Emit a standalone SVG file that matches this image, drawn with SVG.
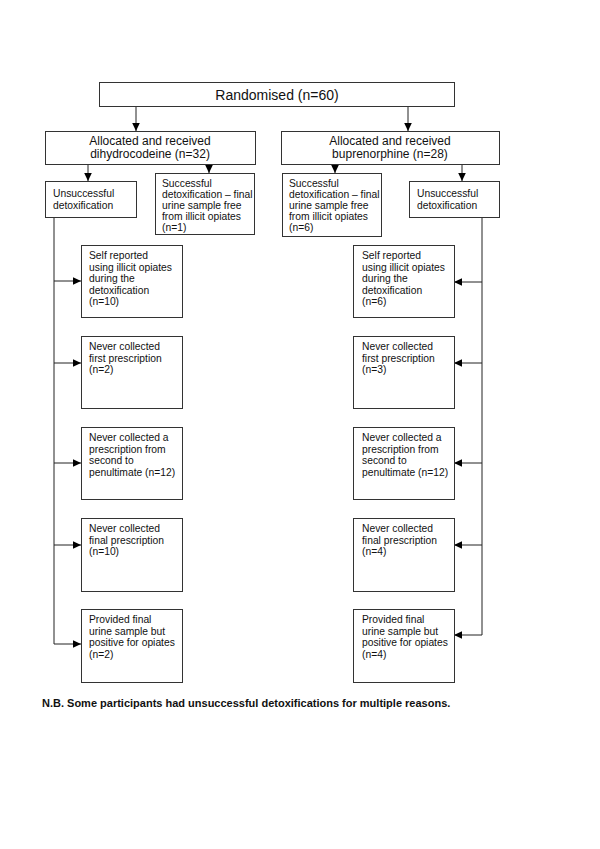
<svg xmlns="http://www.w3.org/2000/svg" width="600" height="849" viewBox="0 0 600 849">
<style>
.box{fill:#fff;stroke:#333;stroke-width:1}
.t{font-family:"Liberation Sans",Arial,sans-serif;fill:#111}
.big{font-size:14px}
.mid{font-size:12px}
.sm{font-size:10.3px}
.note{font-size:11px;font-weight:bold}
.c line,.c path{stroke:#222;stroke-width:1;fill:none}
</style>
<defs>
<marker id="ah" markerUnits="userSpaceOnUse" markerWidth="10" markerHeight="10" viewBox="0 0 10 10" refX="9" refY="5" orient="auto">
<path d="M1,1.2 L9,5 L1,8.8 Z" fill="#000"/>
</marker>
</defs>
<rect width="600" height="849" fill="#fff"/>
<g class="c">
<line x1="136" y1="106" x2="136" y2="131" marker-end="url(#ah)"/>
<line x1="408" y1="106" x2="408" y2="131" marker-end="url(#ah)"/>
<line x1="88" y1="164" x2="88" y2="181" marker-end="url(#ah)"/>
<line x1="209" y1="164" x2="209" y2="173" marker-end="url(#ah)"/>
<line x1="335" y1="164" x2="335" y2="173" marker-end="url(#ah)"/>
<line x1="462" y1="164" x2="462" y2="181" marker-end="url(#ah)"/>
<line x1="54" y1="217" x2="54" y2="644"/>
<line x1="54" y1="281" x2="81" y2="281" marker-end="url(#ah)"/>
<line x1="54" y1="363" x2="81" y2="363" marker-end="url(#ah)"/>
<line x1="54" y1="463" x2="81" y2="463" marker-end="url(#ah)"/>
<line x1="54" y1="545" x2="81" y2="545" marker-end="url(#ah)"/>
<line x1="54" y1="644" x2="81" y2="644" marker-end="url(#ah)"/>
<line x1="482" y1="218" x2="482" y2="635"/>
<line x1="482" y1="282" x2="454" y2="282" marker-end="url(#ah)"/>
<line x1="482" y1="363" x2="454" y2="363" marker-end="url(#ah)"/>
<line x1="482" y1="463" x2="454" y2="463" marker-end="url(#ah)"/>
<line x1="482" y1="545" x2="454" y2="545" marker-end="url(#ah)"/>
<line x1="482" y1="635" x2="454" y2="635" marker-end="url(#ah)"/>
</g>
<g id="randomised">
<rect class="box" x="99.5" y="82.5" width="355" height="24"/>
<text class="t big" x="277" y="99.5" text-anchor="middle">Randomised (n=60)</text>
</g>
<g id="alloc-dhc">
<rect class="box" x="45.5" y="131.5" width="210" height="33"/>
<text class="t mid" x="150" y="145" text-anchor="middle"><tspan x="150">Allocated and received</tspan><tspan x="150" dy="13">dihydrocodeine (n=32)</tspan></text>
</g>
<g id="alloc-bup">
<rect class="box" x="281.5" y="131.5" width="218" height="33"/>
<text class="t mid" x="390" y="145" text-anchor="middle"><tspan x="390">Allocated and received</tspan><tspan x="390" dy="13">buprenorphine (n=28)</tspan></text>
</g>
<g id="unsucc-dhc">
<rect class="box" x="45.5" y="181.5" width="91" height="36"/>
<text class="t sm" y="197"><tspan x="53">Unsuccessful</tspan><tspan x="53" dy="11.5">detoxification</tspan></text>
</g>
<g id="succ-dhc">
<rect class="box" x="155.5" y="173.5" width="99" height="61"/>
<text class="t sm" y="187"><tspan x="162">Successful</tspan><tspan x="162" dy="11">detoxification – final</tspan><tspan x="162" dy="11">urine sample free</tspan><tspan x="162" dy="11">from illicit opiates</tspan><tspan x="162" dy="11">(n=1)</tspan></text>
</g>
<g id="succ-bup">
<rect class="box" x="282.5" y="173.5" width="99" height="63"/>
<text class="t sm" y="187"><tspan x="289">Successful</tspan><tspan x="289" dy="11">detoxification – final</tspan><tspan x="289" dy="11">urine sample free</tspan><tspan x="289" dy="11">from illicit opiates</tspan><tspan x="289" dy="11">(n=6)</tspan></text>
</g>
<g id="unsucc-bup">
<rect class="box" x="409.5" y="181.5" width="90" height="36"/>
<text class="t sm" y="197"><tspan x="417">Unsuccessful</tspan><tspan x="417" dy="11.5">detoxification</tspan></text>
</g>
<g id="dhc-self">
<rect class="box" x="81.5" y="245.5" width="101" height="72"/>
<text class="t sm" y="259"><tspan x="89">Self reported</tspan><tspan x="89" dy="11.5">using illicit opiates</tspan><tspan x="89" dy="11.5">during the</tspan><tspan x="89" dy="11.5">detoxification</tspan><tspan x="89" dy="11.5">(n=10)</tspan></text>
</g>
<g id="dhc-first">
<rect class="box" x="81.5" y="336.5" width="101" height="72"/>
<text class="t sm" y="350"><tspan x="89">Never collected</tspan><tspan x="89" dy="11.5">first prescription</tspan><tspan x="89" dy="11.5">(n=2)</tspan></text>
</g>
<g id="dhc-second">
<rect class="box" x="81.5" y="427.5" width="101" height="72"/>
<text class="t sm" y="441"><tspan x="89">Never collected a</tspan><tspan x="89" dy="11.5">prescription from</tspan><tspan x="89" dy="11.5">second to</tspan><tspan x="89" dy="11.5">penultimate (n=12)</tspan></text>
</g>
<g id="dhc-final">
<rect class="box" x="81.5" y="518.5" width="101" height="73"/>
<text class="t sm" y="532"><tspan x="89">Never collected</tspan><tspan x="89" dy="11.5">final prescription</tspan><tspan x="89" dy="11.5">(n=10)</tspan></text>
</g>
<g id="dhc-positive">
<rect class="box" x="81.5" y="609.5" width="101" height="73"/>
<text class="t sm" y="623"><tspan x="89">Provided final</tspan><tspan x="89" dy="11.5">urine sample but</tspan><tspan x="89" dy="11.5">positive for opiates</tspan><tspan x="89" dy="11.5">(n=2)</tspan></text>
</g>
<g id="bup-self">
<rect class="box" x="353.5" y="245.5" width="101" height="72"/>
<text class="t sm" y="259"><tspan x="362">Self reported</tspan><tspan x="362" dy="11.5">using illicit opiates</tspan><tspan x="362" dy="11.5">during the</tspan><tspan x="362" dy="11.5">detoxification</tspan><tspan x="362" dy="11.5">(n=6)</tspan></text>
</g>
<g id="bup-first">
<rect class="box" x="353.5" y="336.5" width="101" height="72"/>
<text class="t sm" y="350"><tspan x="362">Never collected</tspan><tspan x="362" dy="11.5">first prescription</tspan><tspan x="362" dy="11.5">(n=3)</tspan></text>
</g>
<g id="bup-second">
<rect class="box" x="353.5" y="427.5" width="101" height="72"/>
<text class="t sm" y="441"><tspan x="362">Never collected a</tspan><tspan x="362" dy="11.5">prescription from</tspan><tspan x="362" dy="11.5">second to</tspan><tspan x="362" dy="11.5">penultimate (n=12)</tspan></text>
</g>
<g id="bup-final">
<rect class="box" x="353.5" y="518.5" width="101" height="73"/>
<text class="t sm" y="532"><tspan x="362">Never collected</tspan><tspan x="362" dy="11.5">final prescription</tspan><tspan x="362" dy="11.5">(n=4)</tspan></text>
</g>
<g id="bup-positive">
<rect class="box" x="353.5" y="609.5" width="101" height="73"/>
<text class="t sm" y="623"><tspan x="362">Provided final</tspan><tspan x="362" dy="11.5">urine sample but</tspan><tspan x="362" dy="11.5">positive for opiates</tspan><tspan x="362" dy="11.5">(n=4)</tspan></text>
</g>
<text class="t note" x="42" y="707">N.B. Some participants had unsuccessful detoxifications for multiple reasons.</text>
</svg>
